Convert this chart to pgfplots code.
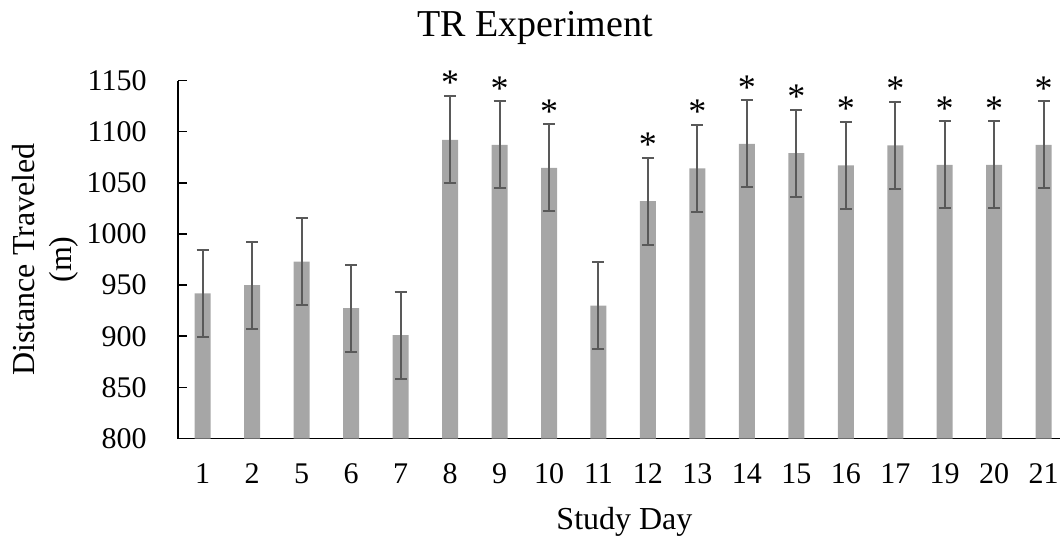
\documentclass[border=0pt]{standalone}
\usepackage{pgfplots}
\pgfplotsset{compat=1.18}
\usepackage{fontspec}
\setmainfont{Liberation Serif}
\definecolor{barfill}{HTML}{A6A6A6}
\definecolor{errcol}{HTML}{595959}
\begin{document}
\begin{tikzpicture}
\useasboundingbox (0,0) rectangle (530pt,270.5pt);
\begin{axis}[
  at={(89pt,51.25pt)}, anchor=south west,
  width=441pt, height=179pt, scale only axis,
  clip=false,
  xmin=-0.5, xmax=17.33,
  ymin=800, ymax=1150,
  ytick={800,850,...,1150},
  xtick={0,...,17},
  xticklabels={1,2,5,6,7,8,9,10,11,12,13,14,15,16,17,19,20,21},
  axis x line=bottom, axis y line=left,
  axis line style={-, line width=0.75pt, black},
  x axis line style={line width=0.9pt},
  xtick style={draw=none},
  ytick style={line width=0.75pt, black},
  tick align=inside,
  major tick length=4.5pt,
  /pgf/number format/assume math mode=true,
  /pgf/number format/1000 sep={},
  tick label style={font=\fontsize{15}{17}\selectfont},
  yticklabel style={anchor=east, inner sep=0pt, xshift=-15.5pt},
  xticklabel style={anchor=north, inner sep=0pt, yshift=-12.5pt},
  title={TR Experiment},
  title style={at={(axis description cs:0.4048,1.1229)}, anchor=base, inner sep=0pt, yshift=0pt, font=\fontsize{19}{22}\selectfont},
  every axis title shift=0pt,
  xlabel={Study Day},
  xlabel style={at={(axis description cs:0.5062,-0.2528)}, anchor=base, inner sep=0pt, font=\fontsize{16}{19}\selectfont},
  ylabel={Distance Traveled\\(m)},
  ylabel style={at={(axis description cs:-0.1502,0.5)}, anchor=center, rotate=0, align=center, inner sep=0pt, font=\fontsize{16}{18.5}\selectfont},
]
\addplot[ybar, bar width=8pt, fill=barfill, draw=none,
  error bars/.cd, y dir=both, y explicit,
  error bar style={line width=1pt, color=errcol},
  error mark options={rotate=90, mark size=3pt, line width=1pt, color=errcol}]
  table[x=x, y=y, y error=e] {
x y e
0 942 42.5
1 950 42.5
2 973 42.5
3 927.5 42.5
4 901 42.5
5 1092 42.5
6 1087 42.5
7 1064.5 42.5
8 930 42.5
9 1032 42.5
10 1064 42.5
11 1088 42.5
12 1079 42.5
13 1067 42.5
14 1086.5 42.5
15 1067.5 42.5
16 1067.5 42.5
17 1087 42.5
};
\addplot[draw=none, mark=none, nodes near coords={*},
  every node near coord/.append style={anchor=south, inner sep=0pt, yshift=0.5pt, text=black, font=\fontsize{18}{20}\selectfont}]
  table[x=x, y=y] {
x y
5 1134.5
6 1129.5
7 1107
9 1074.5
10 1106.5
11 1130.5
12 1121.5
13 1109.5
14 1129
15 1110
16 1110
17 1129.5
};
\end{axis}
\end{tikzpicture}
\end{document}
